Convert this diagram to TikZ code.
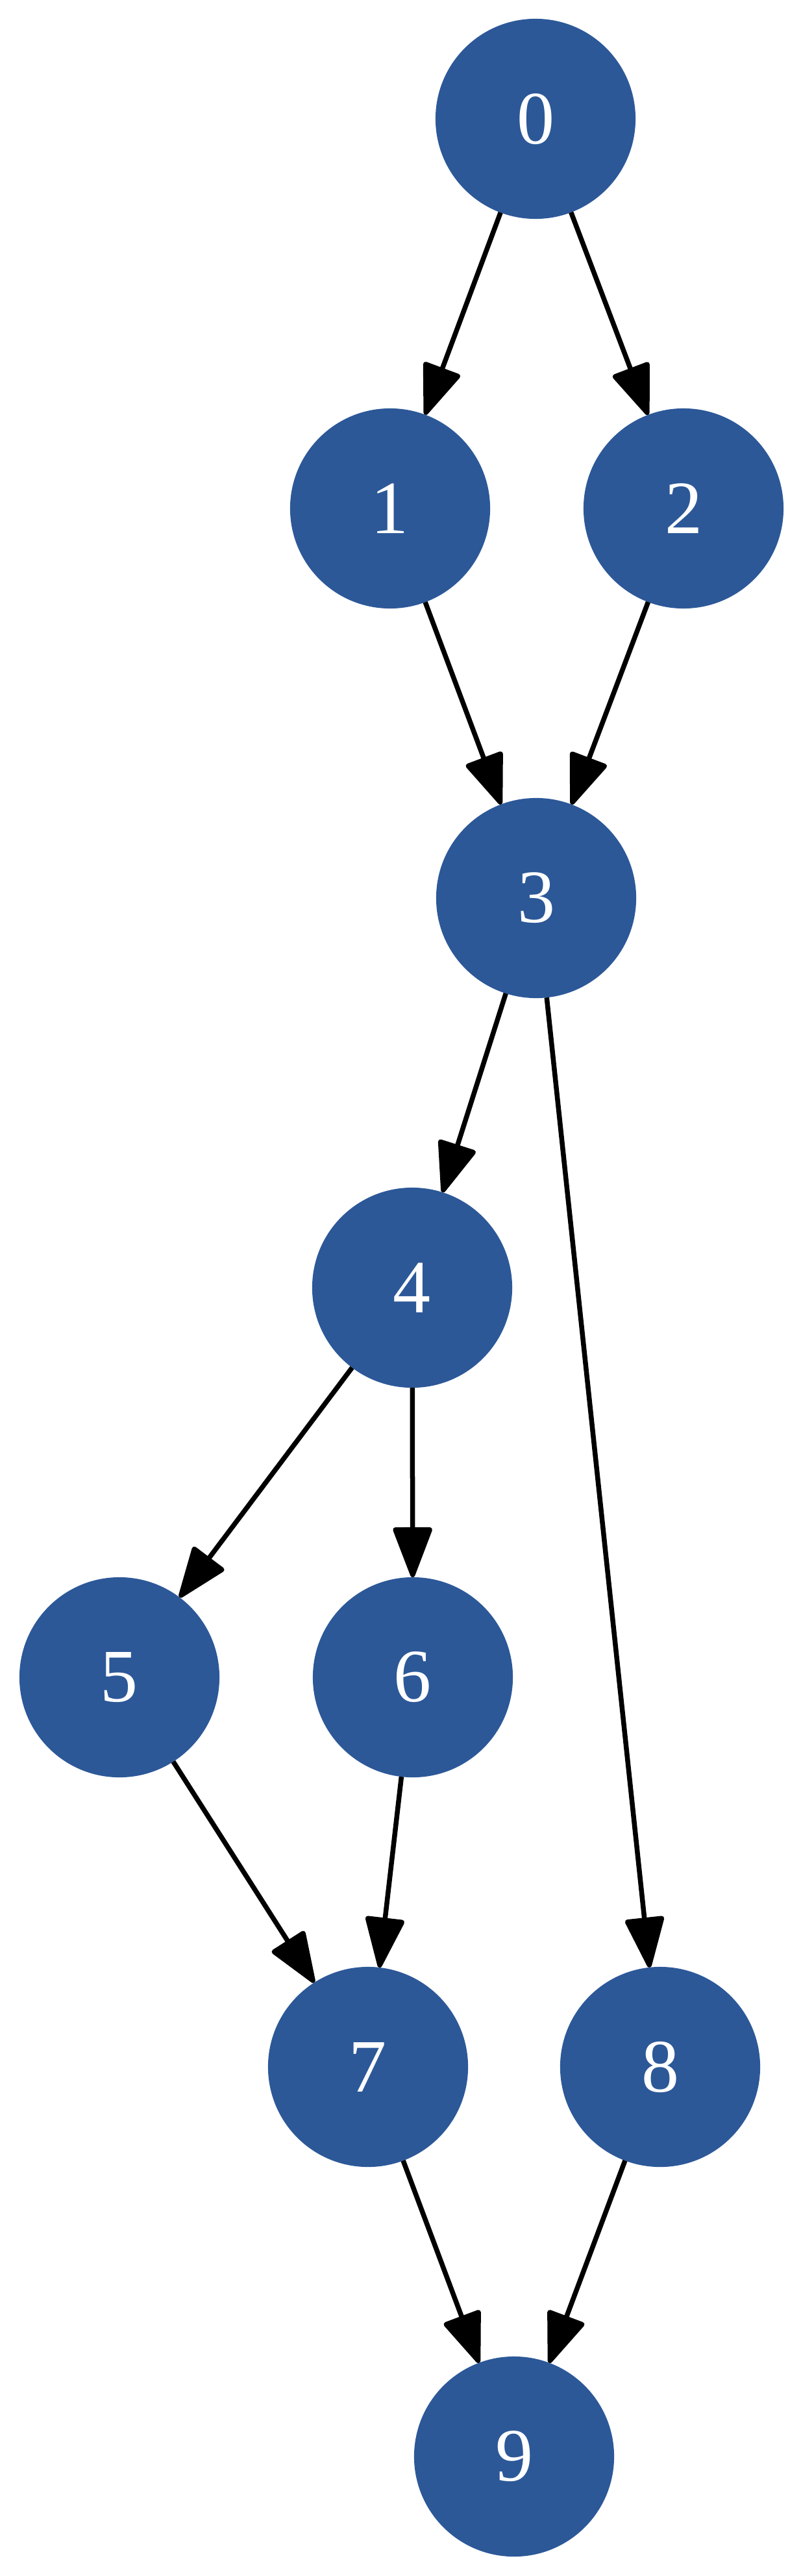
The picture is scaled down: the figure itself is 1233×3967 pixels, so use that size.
\documentclass[tikz,border=0pt]{standalone}
\usepackage{fontspec}
\setmainfont{Liberation Serif}
\usetikzlibrary{arrows.meta}
\definecolor{nodeblue}{RGB}{44,88,152}

\begin{document}
\begin{tikzpicture}[x=0.01cm,y=-0.01cm,->,>={Triangle[length=0.84cm,width=0.62cm,round]},line width=0.075cm]
	\tikzstyle{vertex}=[circle,fill=nodeblue,draw=none,text=white,minimum size=3.08cm,inner sep=0pt,outer sep=0pt,font=\fontsize{33}{40}\selectfont]
	\useasboundingbox (0,0) rectangle (1233,3967);

	\node[vertex] (N0) at (825,183) {0};
	\node[vertex] (N1) at (601,783) {1};
	\node[vertex] (N2) at (1053,783) {2};
	\node[vertex] (N3) at (826,1383) {3};
	\node[vertex] (N4) at (635,1983) {4};
	\node[vertex] (N5) at (184,2583) {5};
	\node[vertex] (N6) at (636,2583) {6};
	\node[vertex] (N7) at (567,3183) {7};
	\node[vertex] (N8) at (1017,3183) {8};
	\node[vertex] (N9) at (792,3783) {9};

	\path (N0) edge (N1);
	\path (N0) edge (N2);
	\path (N1) edge (N3);
	\path (N2) edge (N3);
	\path (N3) edge (N4);
	\path (N3) edge (N8);
	\path (N4) edge (N5);
	\path (N4) edge (N6);
	\path (N5) edge (N7);
	\path (N6) edge (N7);
	\path (N7) edge (N9);
	\path (N8) edge (N9);
\end{tikzpicture}
\end{document}
